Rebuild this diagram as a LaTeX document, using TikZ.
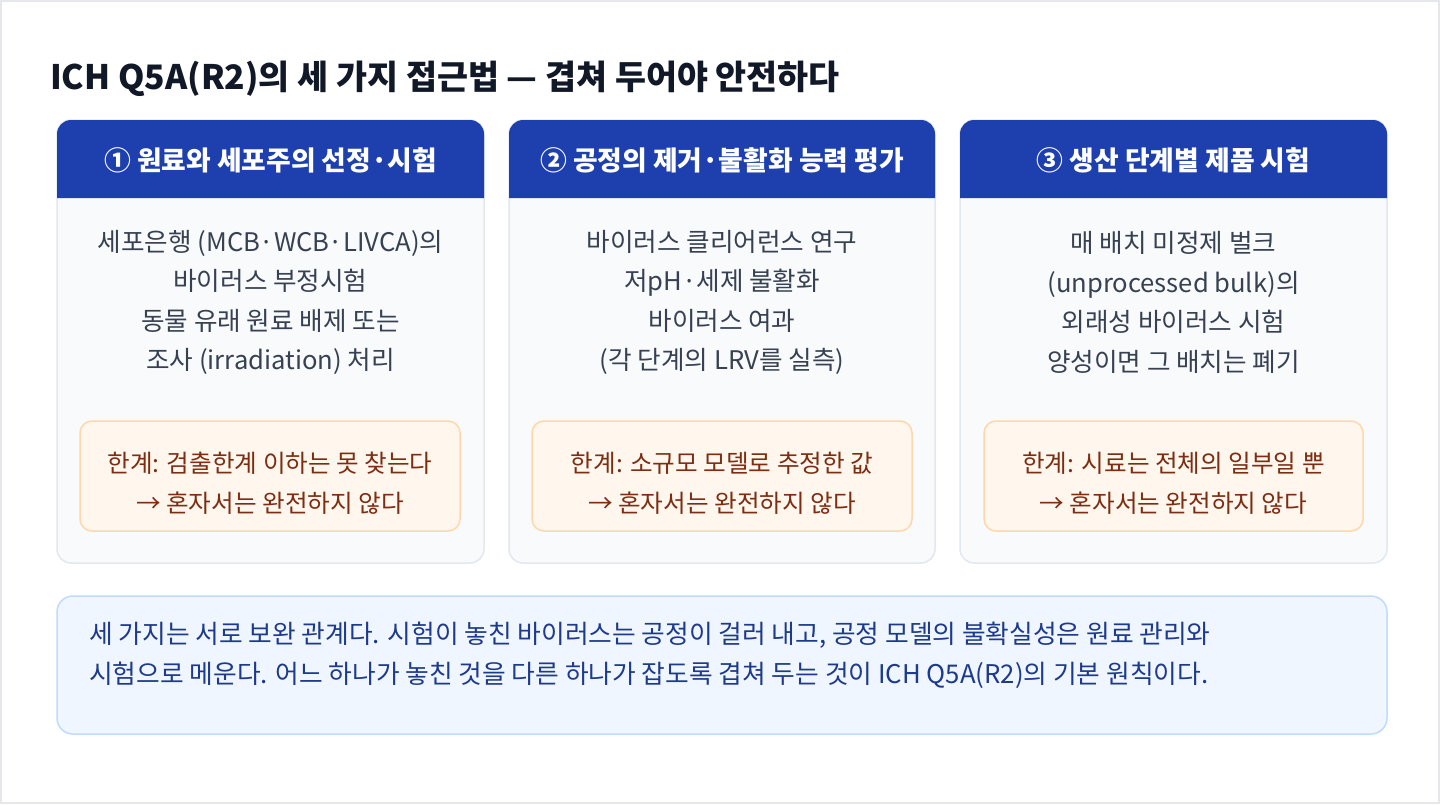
\documentclass[tikz,border=0pt]{standalone}
\usepackage{fontspec}
\setmainfont{Noto Sans CJK KR}
\usetikzlibrary{positioning}

\definecolor{framegray}{HTML}{E5E7EB}
\definecolor{titleink}{HTML}{111827}
\definecolor{hdrblue}{HTML}{1E40AF}
\definecolor{cardfill}{HTML}{F8FAFC}
\definecolor{cardline}{HTML}{E2E8F0}
\definecolor{bodyink}{HTML}{374151}
\definecolor{limfill}{HTML}{FFF7ED}
\definecolor{limline}{HTML}{FED7AA}
\definecolor{limink}{HTML}{7C2D12}
\definecolor{sumfill}{HTML}{EFF6FF}
\definecolor{sumline}{HTML}{BFDBFE}
\definecolor{sumink}{HTML}{1E3A8A}

\tikzset{
  card/.style={fill=cardfill, draw=cardline, line width=1.5pt, rounded corners=14pt},
  hdrtext/.style={text=white, font=\fontsize{26.8}{32}\selectfont\bfseries},
  bodytext/.style={text=bodyink, align=center, font=\fontsize{25.6}{39.5}\selectfont},
  limbox/.style={fill=limfill, draw=limline, line width=1.5pt, rounded corners=12pt},
  limtext/.style={text=limink, align=center, font=\fontsize{24.6}{40}\selectfont},
}

\begin{document}
\begin{tikzpicture}[x=1pt, y=-1pt]

    % 전체 틀
    \useasboundingbox (0,0) rectangle (1440,804);
    \fill[white] (0,0) rectangle (1440,804);
    \draw[framegray, line width=2pt] (1,1) rectangle (1439,803);

    % 제목
    \node[anchor=base west, inner sep=0, text=titleink,
          font=\fontsize{33.7}{38}\selectfont\bfseries] (title) at (50,89)
          {ICH Q5A(R2)의 세 가지 접근법 — 겹쳐 두어야 안전하다};

    % 카드 세 장
    \filldraw[card] (57,120) rectangle (484,563);   % 카드 1
    \filldraw[card] (509,120) rectangle (935,563);  % 카드 2
    \filldraw[card] (960,120) rectangle (1387,563); % 카드 3

    % 카드 머리 (위쪽 모서리만 둥글게)
    \fill[hdrblue] (57,198) [rounded corners=14pt] -- (57,120) -- (484,120) [sharp corners] -- (484,198) -- cycle;
    \fill[hdrblue] (509,198) [rounded corners=14pt] -- (509,120) -- (935,120) [sharp corners] -- (935,198) -- cycle;
    \fill[hdrblue] (960,198) [rounded corners=14pt] -- (960,120) -- (1387,120) [sharp corners] -- (1387,198) -- cycle;

    \node[hdrtext] (head1) at (270.5,160) {① 원료와 세포주의 선정·시험};
    \node[hdrtext] (head2) at (722,160) {② 공정의 제거·불활화 능력 평가};
    \node[hdrtext] (head3) at (1173.5,160) {③ 생산 단계별 제품 시험};

    % 카드 본문
    \node[bodytext] (body1) at (270.5,302.5)
          {세포은행 (MCB·WCB·LIVCA)의\\바이러스 부정시험\\동물 유래 원료 배제 또는\\조사 (irradiation) 처리};
    \node[bodytext] (body2) at (722,302.5)
          {바이러스 클리어런스 연구\\저pH·세제 불활화\\바이러스 여과\\(각 단계의 LRV를 실측)};
    \node[bodytext] (body3) at (1173.5,302.5)
          {매 배치 미정제 벌크\\(unprocessed bulk)의\\외래성 바이러스 시험\\양성이면 그 배치는 폐기};

    % 한계 상자
    \filldraw[limbox] (80,421) rectangle (460,531);
    \filldraw[limbox] (532,421) rectangle (912,531);
    \filldraw[limbox] (984,421) rectangle (1363,531);

    \node[limtext] (lim1) at (270,483) {한계: 검출한계 이하는 못 찾는다\\→ 혼자서는 완전하지 않다};
    \node[limtext] (lim2) at (722,483) {한계: 소규모 모델로 추정한 값\\→ 혼자서는 완전하지 않다};
    \node[limtext] (lim3) at (1173.5,483) {한계: 시료는 전체의 일부일 뿐\\→ 혼자서는 완전하지 않다};

    % 아래 요약 상자
    \filldraw[fill=sumfill, draw=sumline, line width=1.5pt, rounded corners=16pt] (57,596) rectangle (1387,734);
    \node[anchor=west, text=sumink, align=left, inner sep=0,
          font=\fontsize{25.75}{40}\selectfont] (summary) at (89,655)
          {세 가지는 서로 보완 관계다. 시험이 놓친 바이러스는 공정이 걸러 내고, 공정 모델의 불확실성은 원료 관리와\\시험으로 메운다. 어느 하나가 놓친 것을 다른 하나가 잡도록 겹쳐 두는 것이 ICH Q5A(R2)의 기본 원칙이다.};

\end{tikzpicture}
\end{document}
